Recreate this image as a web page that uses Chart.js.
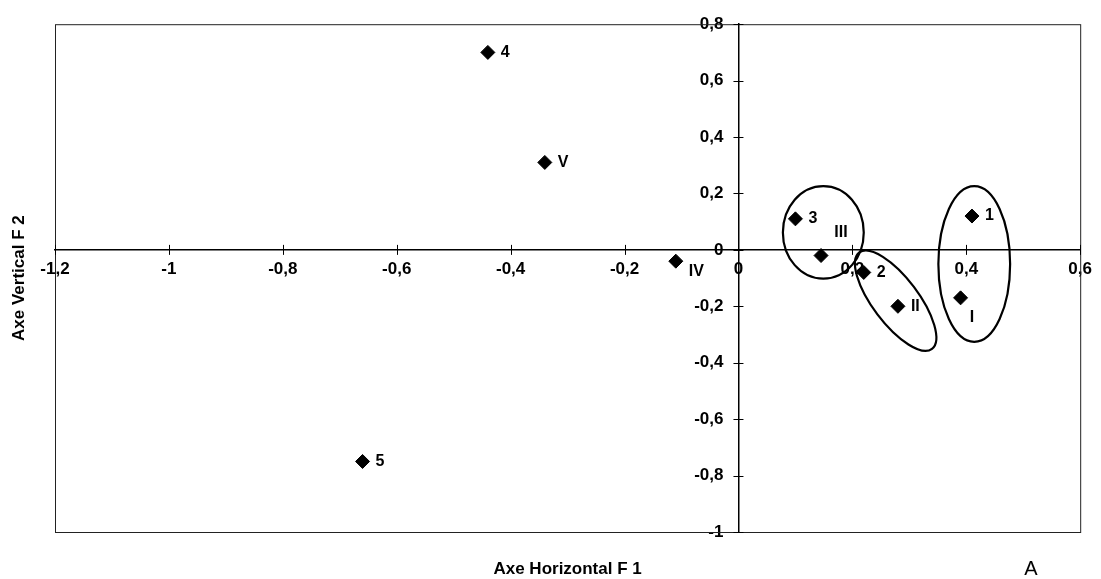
<!DOCTYPE html>
<html><head><meta charset="utf-8">
<script src="https://cdn.jsdelivr.net/npm/chart.js@4/dist/chart.umd.min.js"></script>
<style>html,body{margin:0;padding:0;background:#fff;overflow:hidden}</style>
</head><body>
<canvas id="c" width="1101" height="579"></canvas>
<script>
// ---- data ----
const pointX = [0.41, 0.39, 0.145, 0.10, 0.22, 0.28, -0.44, -0.34, -0.11, -0.66];
const pointY = [0.12, -0.17, -0.02, 0.11, -0.08, -0.20, 0.70, 0.31, -0.04, -0.75];
const pointLabels = ['1', '', '', '3', '2', 'II', '4', 'V', 'IV', '5'];

const xTickValues = [-1.2, -1, -0.8, -0.6, -0.4, -0.2, 0, 0.2, 0.4, 0.6];
const xTickLabels = ['-1,2', '-1', '-0,8', '-0,6', '-0,4', '-0,2', '0', '0,2', '0,4', '0,6'];
const yTickValues = [-1, -0.8, -0.6, -0.4, -0.2, 0, 0.2, 0.4, 0.6, 0.8];
const yTickLabels = ['-1', '-0,8', '-0,6', '-0,4', '-0,2', '0', '0,2', '0,4', '0,6', '0,8'];

// groups (ellipses) in data units
const groupCx = [0.414, 0.276, 0.149];
const groupCy = [-0.05, -0.18, 0.062];
const groupRx = [0.063, 0.106, 0.071];
const groupRy = [0.276, 0.081, 0.164];
const groupAngle = [0, 53, 0];
const groupNames = ['I', 'III'];
const groupNameX = [0.41, 0.18];
const groupNameY = [-0.24, 0.06];

const xTitle = 'Axe Horizontal F 1';
const yTitle = 'Axe Vertical F 2';
const cornerTag = 'A';

const FONT = '"Liberation Sans", Arial, sans-serif';

const decor = {
  id: 'decor',
  beforeDraw(chart) {
    // move y tick labels to the left of the centred axis
    const items = chart.scales.y.getLabelItems(chart.chartArea);
    items.forEach(it => {
      if (!it._shifted) { it.options.translation[0] -= 15; it._shifted = true; }
    });
  },
  beforeDatasetsDraw(chart) {
    const ctx = chart.ctx, a = chart.chartArea, xs = chart.scales.x, ys = chart.scales.y;
    ctx.save();
    ctx.strokeStyle = '#222';
    ctx.lineWidth = 1;
    ctx.strokeRect(a.left + 0.5, a.top + 0.5, a.right - a.left, a.bottom - a.top);
    ctx.strokeStyle = '#000';
    const y0 = ys.getPixelForValue(0), x0 = xs.getPixelForValue(0);
    xTickValues.forEach(v => {
      const px = Math.round(xs.getPixelForValue(v)) + 0.5;
      ctx.beginPath(); ctx.moveTo(px, y0 - 5); ctx.lineTo(px, y0 + 5); ctx.stroke();
    });
    yTickValues.forEach(v => {
      const py = Math.round(ys.getPixelForValue(v)) + 0.5;
      ctx.beginPath(); ctx.moveTo(x0 - 5, py); ctx.lineTo(x0 + 5, py); ctx.stroke();
    });
    ctx.restore();
  },
  afterDatasetsDraw(chart) {
    const ctx = chart.ctx, xs = chart.scales.x, ys = chart.scales.y;
    const kx = Math.abs(xs.getPixelForValue(1) - xs.getPixelForValue(0));
    const ky = Math.abs(ys.getPixelForValue(1) - ys.getPixelForValue(0));
    ctx.save();
    ctx.strokeStyle = '#000';
    ctx.lineWidth = 2.2;
    for (let i = 0; i < groupCx.length; i++) {
      ctx.beginPath();
      ctx.ellipse(xs.getPixelForValue(groupCx[i]), ys.getPixelForValue(groupCy[i]),
        groupRx[i] * kx, groupRy[i] * ky, groupAngle[i] * Math.PI / 180, 0, Math.PI * 2);
      ctx.stroke();
    }
    ctx.fillStyle = '#000';
    ctx.font = 'bold 16px ' + FONT;
    ctx.textBaseline = 'middle';
    ctx.textAlign = 'left';
    const meta = chart.getDatasetMeta(0);
    meta.data.forEach((el, i) => {
      const t = pointLabels[i];
      if (!t) return;
      const dy = t === 'IV' ? 10 : 0;
      ctx.fillText(t, el.x + 13, el.y + dy);
    });
    groupNames.forEach((t, i) => {
      ctx.textAlign = 'center';
      ctx.fillText(t, xs.getPixelForValue(groupNameX[i]), ys.getPixelForValue(groupNameY[i]));
    });
    const a = chart.chartArea;
    ctx.font = 'bold 17px ' + FONT;
    ctx.textAlign = 'center';
    ctx.textBaseline = 'alphabetic';
    ctx.fillText(xTitle, (a.left + a.right) / 2, 574);
    ctx.save();
    ctx.translate(24, (a.top + a.bottom) / 2);
    ctx.rotate(-Math.PI / 2);
    ctx.fillText(yTitle, 0, 0);
    ctx.restore();
    ctx.font = '20px ' + FONT;
    ctx.fillText(cornerTag, 1031, 575);
    ctx.restore();
  }
};

new Chart(document.getElementById('c'), {
  type: 'scatter',
  data: {
    datasets: [{
      data: pointX.map((x, i) => ({x: x, y: pointY[i]})),
      pointStyle: 'rectRot',
      pointRadius: 7,
      pointHoverRadius: 7,
      backgroundColor: '#000',
      borderColor: '#000',
      borderWidth: 1
    }]
  },
  options: {
    responsive: false,
    animation: false,
    devicePixelRatio: 1,
    layout: {padding: {left: 55, top: 20, right: 20, bottom: 47}},
    plugins: {legend: {display: false}, tooltip: {enabled: false}},
    scales: {
      x: {
        type: 'linear',
        position: {y: 0},
        min: -1.2, max: 0.6,
        afterBuildTicks: s => { s.ticks = xTickValues.map(v => ({value: v})); },
        grid: {display: false, drawTicks: false},
        border: {display: true, color: '#000', width: 1.5},
        ticks: {
          autoSkip: false, maxRotation: 0, padding: 9,
          color: '#000', font: {family: FONT, size: 17, weight: 'bold'},
          callback: (v, i) => xTickLabels[i]
        }
      },
      y: {
        type: 'linear',
        position: {x: 0},
        min: -1, max: 0.8,
        afterBuildTicks: s => { s.ticks = yTickValues.map(v => ({value: v})); },
        grid: {display: false, drawTicks: false},
        border: {display: true, color: '#000', width: 1.5},
        ticks: {
          autoSkip: false, padding: 14,
          color: '#000', font: {family: FONT, size: 17, weight: 'bold'},
          callback: (v, i) => yTickLabels[i]
        }
      }
    }
  },
  plugins: [decor]
});
</script>
</body></html>
